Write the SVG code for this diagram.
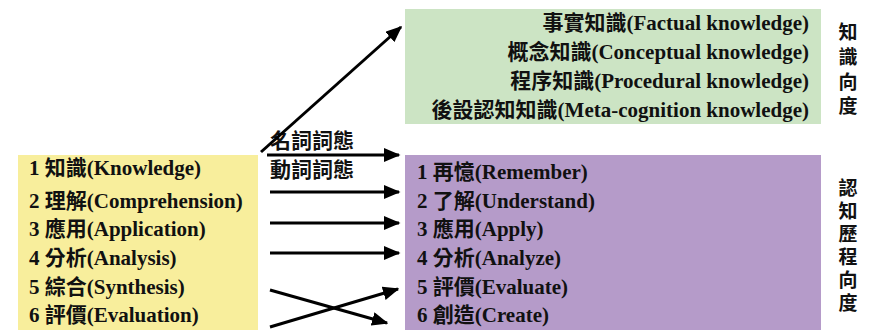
<svg xmlns="http://www.w3.org/2000/svg" width="874" height="330" viewBox="0 0 874 330">
<defs>
<marker id="ah" markerWidth="5.5" markerHeight="4.6" refX="5" refY="2.3" orient="auto" markerUnits="strokeWidth">
<path d="M0,0 L5.5,2.3 L0,4.6 Z" fill="#000"/>
</marker>
<style>
text{font-family:"Liberation Serif","Noto Sans CJK TC",serif;font-weight:bold;font-size:21px;fill:#111}
.v{text-anchor:middle;font-size:19px}
.r{text-anchor:end}
.c{stroke:#000;stroke-width:3;fill:none;marker-end:url(#ah)}
</style>
</defs>
<rect width="874" height="330" fill="#fff"/>
<g id="knowledge-dim">
<rect x="405" y="9" width="416" height="115" fill="#cce4c4"/>
<text class="r" x="809" y="30">事實知識(Factual knowledge)</text>
<text class="r" x="809" y="59">概念知識(Conceptual knowledge)</text>
<text class="r" x="809" y="88">程序知識(Procedural knowledge)</text>
<text class="r" x="809" y="117">後設認知知識(Meta-cognition knowledge)</text>
</g>
<g id="old-taxonomy">
<rect x="18" y="155" width="240" height="175" fill="#f8ee9c"/>
<text x="29" y="175">1 知識(Knowledge)</text>
<text x="29" y="208">2 理解(Comprehension)</text>
<text x="29" y="236">3 應用(Application)</text>
<text x="29" y="265">4 分析(Analysis)</text>
<text x="29" y="294">5 綜合(Synthesis)</text>
<text x="29" y="322">6 評價(Evaluation)</text>
</g>
<g id="new-taxonomy">
<rect x="405" y="155" width="416" height="175" fill="#b59bc9"/>
<text x="417" y="179">1 再憶(Remember)</text>
<text x="417" y="208">2 了解(Understand)</text>
<text x="417" y="236">3 應用(Apply)</text>
<text x="417" y="265">4 分析(Analyze)</text>
<text x="417" y="294">5 評價(Evaluate)</text>
<text x="417" y="322">6 創造(Create)</text>
</g>
<g id="label-knowledge">
<text class="v" x="848" y="39">知</text>
<text class="v" x="848" y="64">識</text>
<text class="v" x="848" y="89">向</text>
<text class="v" x="848" y="113">度</text>
</g>
<g id="label-process">
<text class="v" x="848" y="195">認</text>
<text class="v" x="848" y="218">知</text>
<text class="v" x="848" y="241">歷</text>
<text class="v" x="848" y="264">程</text>
<text class="v" x="848" y="287">向</text>
<text class="v" x="848" y="310">度</text>
</g>
<g id="label-noun"><text x="270" y="148">名詞詞態</text></g>
<g id="label-verb"><text x="270" y="177">動詞詞態</text></g>
<g id="connectors">
<line class="c" x1="261" y1="152" x2="401" y2="27"/>
<line class="c" x1="267" y1="155" x2="399" y2="155"/>
<line class="c" x1="270" y1="192" x2="399" y2="192"/>
<line class="c" x1="270" y1="223" x2="399" y2="223"/>
<line class="c" x1="270" y1="253" x2="399" y2="253"/>
<line class="c" x1="270" y1="290" x2="387" y2="323"/>
<line class="c" x1="270" y1="327" x2="398" y2="289"/>
</g>
</svg>
